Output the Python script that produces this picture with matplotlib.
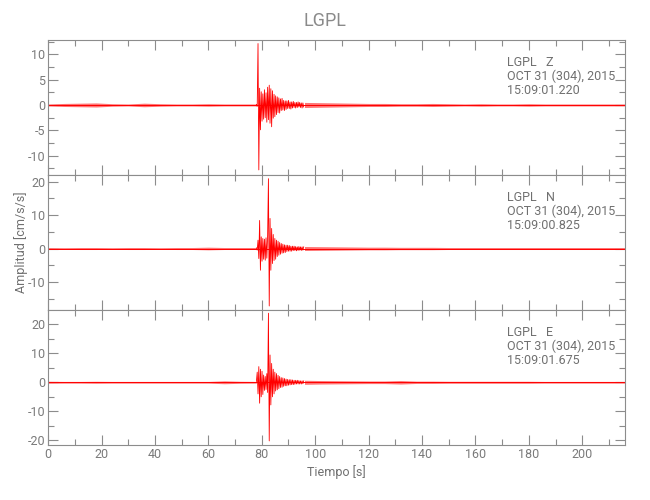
import numpy as np
import matplotlib
matplotlib.use("Agg")
from matplotlib import pyplot as plt
from matplotlib.ticker import MultipleLocator

plt.rcParams['font.family'] = ['Roboto', 'DejaVu Sans']
plt.rcParams['axes.unicode_minus'] = False

# background noise is drawn as a thin band: half-width (envelope) read every 6 s
t_pre = np.arange(0, 78.1, 6.0)
t_coda = np.arange(96, 216.1, 6.0)
# the strong motion part is drawn sample by sample (0.3 s)
t_burst = np.arange(78, 96, 0.3)

# ---- LGPL Z ----
z_pre = [0.2, 0.3, 0.35, 0.4, 0.25, 0.2, 0.35, 0.25, 0.2, 0.2, 0.25, 0.2, 0.2, 0.2]
z_burst = [0.1, -0.3, 12.1, -12.8, 3.3, -4.9, 2.6, -3.2, 2.2, -2.8,
           3.0, -2.5, 2.4, -3.4, 3.5, -2.9, 3.9, -3.6, 3.2, -4.3,
           2.8, -2.6, 2.1, -2.3, 1.8, -1.9, 1.6, -1.5, 1.4, -1.6,
           1.2, -1.1, 1.3, -1.0, 0.9, -1.1, 0.8, -0.9, 0.8, -0.7,
           0.9, -0.7, 0.6, -0.8, 0.6, -0.6, 0.7, -0.5, 0.5, -0.6,
           0.5, -0.5, 0.6, -0.4, 0.5, -0.5, 0.4, -0.6, 0.4, -0.4]
z_coda = [0.5, 0.45, 0.4, 0.35, 0.3, 0.3, 0.25, 0.25, 0.3, 0.25, 0.2,
          0.25, 0.2, 0.2, 0.25, 0.2, 0.2, 0.2, 0.2, 0.2, 0.2]

# ---- LGPL N ----
n_pre = [0.3, 0.25, 0.3, 0.3, 0.25, 0.3, 0.3, 0.25, 0.3, 0.3, 0.4, 0.3, 0.3, 0.3]
n_burst = [0.2, -0.5, 2.5, -3.0, 8.4, -6.5, 3.5, -3.8, 3.0, -3.2,
           2.8, -3.5, 3.2, -2.9, 4.0, 20.9, -17.2, 9.0, -6.5, 6.0,
           -4.5, 4.2, -3.6, 3.0, -3.2, 2.5, -2.4, 2.2, -2.0, 1.8,
           -1.7, 1.5, -1.4, 1.3, -1.3, 1.1, -1.2, 1.0, -0.9, 1.0,
           -0.8, 0.9, -0.8, 0.7, -0.8, 0.7, -0.6, 0.7, -0.6, 0.6,
           -0.7, 0.5, -0.6, 0.6, -0.5, 0.5, -0.6, 0.5, -0.5, 0.5]
n_coda = [0.6, 0.55, 0.5, 0.45, 0.4, 0.4, 0.35, 0.35, 0.35, 0.3, 0.3,
          0.3, 0.3, 0.3, 0.3, 0.3, 0.3, 0.3, 0.3, 0.3, 0.3]

# ---- LGPL E ----
e_pre = [0.35, 0.3, 0.3, 0.35, 0.3, 0.3, 0.3, 0.3, 0.3, 0.3, 0.3, 0.5, 0.35, 0.3]
e_burst = [0.3, 3.5, -4.0, 5.4, -7.2, 4.5, -5.0, 3.8, -4.2, 2.5,
           -2.8, 2.0, -2.5, 3.0, -3.5, 23.8, -20.2, 9.4, -7.8, 6.5,
           -5.0, 4.5, -4.0, 3.5, -3.0, 3.0, -2.6, 2.4, -2.2, 2.0,
           -1.8, 1.6, -1.7, 1.5, -1.4, 1.3, -1.2, 1.1, -1.2, 1.0,
           -1.0, 0.9, -0.9, 0.9, -0.8, 0.8, -0.8, 0.7, -0.7, 0.7,
           -0.6, 0.7, -0.6, 0.6, -0.6, 0.5, -0.6, 0.5, -0.5, 0.5]
e_coda = [0.7, 0.6, 0.55, 0.5, 0.45, 0.45, 0.6, 0.4, 0.4, 0.35, 0.35,
          0.35, 0.35, 0.35, 0.35, 0.3, 0.3, 0.3, 0.3, 0.3, 0.3]

labels = ["LGPL   Z", "LGPL   N", "LGPL   E"]
starts = ["15:09:01.220", "15:09:00.825", "15:09:01.675"]
date = "OCT 31 (304), 2015"
ylims = [(-13.8, 12.8), (-18.4, 22.0), (-21.6, 24.9)]
ymajor = [5, 10, 10]
yminor = [2.5, 5, 5]
traces = [(z_pre, z_burst, z_coda), (n_pre, n_burst, n_coda), (e_pre, e_burst, e_coda)]

gray = "#8c8c8c"
tcol = "#707070"
fig = plt.figure(figsize=(6.5, 5), dpi=100)
gs = fig.add_gridspec(3, 1, left=0.074, right=0.9615, top=0.92, bottom=0.11, hspace=0)

for i in range(3):
    ax = fig.add_subplot(gs[i])
    pre, burst, coda = traces[i]
    pre = np.array(pre)
    coda = np.array(coda)
    ax.fill_between(t_pre, -pre, pre, color="red", alpha=0.55, lw=0)
    ax.fill_between(t_coda, -coda, coda, color="red", alpha=0.55, lw=0)
    ax.plot([0, 216], [0, 0], color="red", lw=0.7)
    ax.plot(t_burst, burst, color="red", lw=0.6)
    ax.set_xlim(0, 216)
    ax.set_ylim(*ylims[i])
    ax.xaxis.set_major_locator(MultipleLocator(20))
    ax.xaxis.set_minor_locator(MultipleLocator(10))
    ax.yaxis.set_major_locator(MultipleLocator(ymajor[i]))
    ax.yaxis.set_minor_locator(MultipleLocator(yminor[i]))
    ax.tick_params(which="both", direction="in", top=True, right=True,
                   color=gray, labelcolor="#7a7a7a", labelsize=9, width=0.8, pad=2)
    ax.tick_params(which="major", length=7)
    ax.tick_params(which="minor", length=4)
    for s in ax.spines.values():
        s.set_color(gray)
        s.set_linewidth(0.8)
    if i < 2:
        ax.tick_params(labelbottom=False)
    ax.text(0.795, 0.837, labels[i], transform=ax.transAxes, va="center",
            color=tcol, fontsize=9)
    ax.text(0.795, 0.730, date, transform=ax.transAxes, va="center",
            color=tcol, fontsize=9)
    ax.text(0.795, 0.626, starts[i], transform=ax.transAxes, va="center",
            color=tcol, fontsize=9)
    if i == 2:
        ax.set_xlabel("Tiempo [s]", color=tcol, fontsize=9, labelpad=3)

fig.text(0.032, 0.516, "Amplitud [cm/s/s]", rotation=90, va="center", ha="center",
         color=tcol, fontsize=9)
fig.suptitle("LGPL", y=0.975, color="#8a8a8a", fontsize=13)

fig.savefig("out.png", dpi=100)
